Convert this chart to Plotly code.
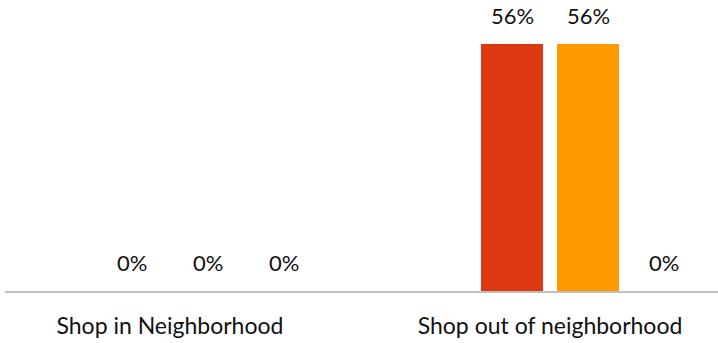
import plotly.graph_objects as go

categories = ["Shop in Neighborhood", "Shop out of neighborhood"]
series_names = ["Series A", "Series B", "Series C", "Series D"]
series_values = [
    [None, None],
    [0, 56],
    [0, 56],
    [0, 0],
]
series_colors = ["#3366CC", "#DC3912", "#FF9900", "#109618"]

FONT = "Lato"
BARGAP = 0.2
n = len(series_names)
slot = (1 - BARGAP) / n

fig = go.Figure()
for name, vals, col in zip(series_names, series_values, series_colors):
    fig.add_trace(go.Bar(x=categories, y=vals, name=name, marker_color=col,
                         marker_line_width=0, hoverinfo="skip"))

annotations = []
for i, vals in enumerate(series_values):
    for j, v in enumerate(vals):
        if v is None:
            continue
        annotations.append(dict(
            x=j + (i - (n - 1) / 2) * slot, y=v, xref="x", yref="y",
            text=f"{v}%", showarrow=False, yanchor="bottom", yshift=13,
            font=dict(family=FONT, size=22, color="#111111")))

fig.update_layout(
    width=718, height=343,
    margin=dict(l=5, r=0, t=26, b=52, autoexpand=False),
    paper_bgcolor="white", plot_bgcolor="white",
    barmode="group", bargap=BARGAP, bargroupgap=0.184,
    showlegend=False,
    annotations=annotations,
    xaxis=dict(type="category", range=[-0.434, 1.442], showgrid=False,
               showline=True, linecolor="#BFBFBF", linewidth=2,
               tickfont=dict(family=FONT, size=23, color="#111111"),
               ticks="", ticklabelstandoff=13),
    yaxis=dict(range=[0, 60.1], visible=False, showgrid=False, zeroline=False),
)

fig.write_html("out.html", config={"displayModeBar": False},
               post_script="document.body.style.margin='0';")
